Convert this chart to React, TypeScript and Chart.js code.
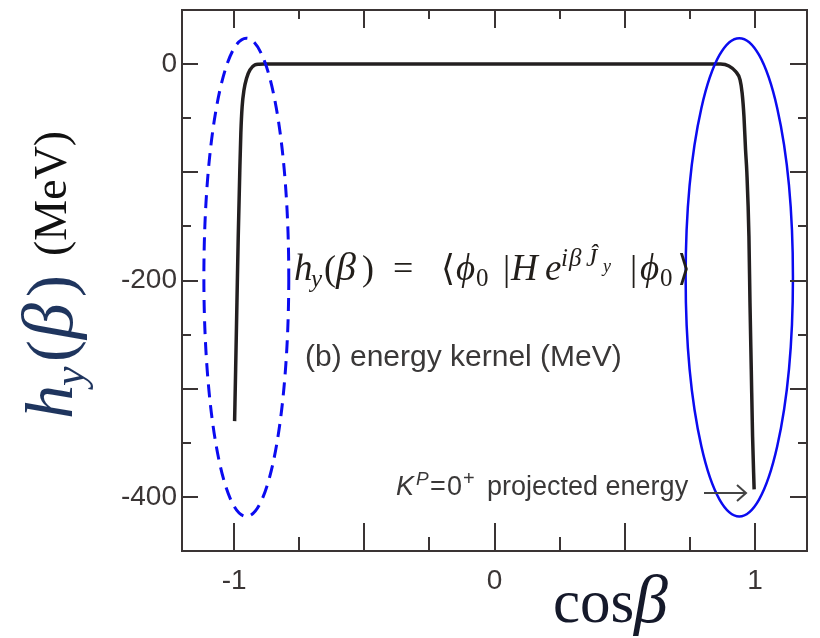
import React, { useEffect, useRef } from 'react';
import { Chart, registerables } from 'chart.js';

Chart.register(...registerables);

// ---- data ----
const cosBeta = [
  -0.998, -0.994, -0.989, -0.984, -0.978, -0.974, -0.969, -0.962, -0.952, -0.939, -0.92, -0.905, -0.886,
  0.868, 0.9, 0.926, 0.943, 0.951, 0.958, 0.964, 0.969, 0.977, 0.981, 0.986, 0.991, 0.997,
];
const kernelMeV = [
  -330, -282, -220, -159, -98, -63.5, -39, -24, -13, -5.4, -0.7, -0.2, 0,
  0, -1.7, -6.9, -14.6, -26.9, -48.5, -79, -100, -159, -220, -282, -344, -393,
];
const xTickLabels = [-1, 0, 1];
const yTickLabels = [-400, -200, 0];
const xMajorTicks = [-1, -0.5, 0, 0.5, 1];
const xMinorTicks = [-0.75, -0.25, 0.25, 0.75];
const yMajorTicks = [-400, -300, -200, -100, 0];
const yMinorTicks = [-350, -250, -150, -50];

// highlighted regions (centre / radii in data units)
const ellipseCx = [-0.953, 0.94];
const ellipseCy = [-197, -197];
const ellipseRx = [0.163, 0.206];
const ellipseRy = [221, 221];
const ellipseDashed = [true, false];

const SERIF = '"Liberation Serif", "DejaVu Serif", serif';
const SANS = '"Liberation Sans", Arial, sans-serif';

type Piece = [number, string, string, number, string?];

function drawPieces(ctx: CanvasRenderingContext2D, pieces: Piece[], baseY: number, color: string) {
  ctx.textAlign = 'left';
  ctx.textBaseline = 'alphabetic';
  for (const [x, t, f, dy, c] of pieces) {
    ctx.font = f;
    ctx.fillStyle = c || color;
    ctx.fillText(t, x, baseY + dy);
  }
}

const framePlugin = {
  id: 'frameAndNotes',
  afterDatasetsDraw(chart: any) {
    const { ctx, chartArea: a } = chart;
    const xs = chart.scales.x;
    const ys = chart.scales.y;
    ctx.save();
    // ellipses
    for (let i = 0; i < ellipseCx.length; i++) {
      const cx = xs.getPixelForValue(ellipseCx[i]);
      const cy = ys.getPixelForValue(ellipseCy[i]);
      const rx = Math.abs(xs.getPixelForValue(ellipseCx[i] + ellipseRx[i]) - cx);
      const ry = Math.abs(ys.getPixelForValue(ellipseCy[i] + ellipseRy[i]) - cy);
      ctx.beginPath();
      ctx.ellipse(cx, cy, rx, ry, 0, 0, Math.PI * 2);
      ctx.setLineDash(ellipseDashed[i] ? [13, 8] : []);
      ctx.lineWidth = ellipseDashed[i] ? 3 : 2.5;
      ctx.strokeStyle = '#0b0bf0';
      ctx.stroke();
    }
    ctx.setLineDash([]);
    // frame
    ctx.strokeStyle = '#3a3434';
    ctx.lineWidth = 2;
    ctx.strokeRect(a.left, a.top, a.right - a.left, a.bottom - a.top);
    ctx.beginPath();
    const tickX = (vals: number[], lb: number, lt: number) => {
      for (const v of vals) {
        const p = Math.round(xs.getPixelForValue(v));
        ctx.moveTo(p, a.bottom);
        ctx.lineTo(p, a.bottom - lb);
        ctx.moveTo(p, a.top);
        ctx.lineTo(p, a.top + lt);
      }
    };
    const tickY = (vals: number[], ll: number, lr: number) => {
      for (const v of vals) {
        const p = Math.round(ys.getPixelForValue(v));
        ctx.moveTo(a.left, p);
        ctx.lineTo(a.left + ll, p);
        ctx.moveTo(a.right, p);
        ctx.lineTo(a.right - lr, p);
      }
    };
    tickX(xMajorTicks, 28, 18);
    tickX(xMinorTicks, 14, 9);
    tickY(yMajorTicks, 16, 17);
    tickY(yMinorTicks, 9, 9);
    ctx.stroke();
    ctx.restore();
  },
  afterDraw(chart: any) {
    const ctx: CanvasRenderingContext2D = chart.ctx;
    ctx.save();
    // formula
    const M = `italic 37px ${SERIF}`;
    const B = `italic 40px ${SERIF}`;
    const U = `36px ${SERIF}`;
    const S = `italic 25px ${SERIF}`;
    const SU = `25px ${SERIF}`;
    const P = `italic 25px ${SERIF}`;
    const PS = `italic 18px ${SERIF}`;
    drawPieces(ctx, [
      [294, 'h', M, 0], [311, 'y', S, 7], [324, '(', U, 0], [336, '\u03B2', B, 0], [362, ')', U, 0],
      [393, '=', U, 0], [441, '\u27E8', U, 0], [456, '\u03D5', M, 0], [476, '0', SU, 6],
      [503, '|', U, 0], [511, 'H', M, 0], [545, 'e', M, 0],
      [561, 'i', P, -14], [569, '\u03B2', P, -14], [586, '\u0134', P, -14], [603, 'y', PS, -8],
      [630, '|', U, 0], [640, '\u03D5', M, 0], [660, '0', SU, 6], [677, '\u27E9', U, 0],
    ], 280, '#221e1a');

    // (b) energy kernel (MeV)
    ctx.font = `30px ${SANS}`;
    ctx.fillStyle = '#3a3838';
    ctx.fillText('(b) energy kernel (MeV)', 305, 366);

    // K^P = 0^+ projected energy ->
    const T = `27px ${SANS}`;
    const TI = `italic 27px ${SANS}`;
    const TS = `20px ${SANS}`;
    const TSI = `italic 19px ${SANS}`;
    drawPieces(ctx, [
      [396, 'K', TI, 0], [416, 'P', TSI, -10], [430, '=', T, 0], [447, '0', T, 0], [463, '+', TS, -10],
      [487, 'projected energy', T, 0],
    ], 495, '#3a3838');
    ctx.strokeStyle = '#444';
    ctx.lineWidth = 2;
    ctx.beginPath();
    ctx.moveTo(704, 493);
    ctx.lineTo(745, 493);
    ctx.moveTo(737, 485);
    ctx.lineTo(746, 493);
    ctx.lineTo(737, 501);
    ctx.stroke();

    // x title
    drawPieces(ctx, [
      [553, 'cos', `61px ${SERIF}`, 0], [634, '\u03B2', `italic 68px ${SERIF}`, 0],
    ], 622, '#15192a');

    // y title (rotated)
    ctx.translate(72, 419);
    ctx.rotate(-Math.PI / 2);
    drawPieces(ctx, [
      [0, 'h', `italic 68px ${SERIF}`, 0], [33, 'y', `italic 44px ${SERIF}`, 12],
      [57, '(', `66px ${SERIF}`, 0], [80, '\u03B2', `italic 72px ${SERIF}`, 0], [122, ')', `66px ${SERIF}`, 0],
      [163, '(MeV)', `46px ${SERIF}`, -6, '#111111'],
    ], 0, '#1f355e');
    ctx.restore();
  },
};

export default function App() {
  const ref = useRef<HTMLCanvasElement>(null);
  useEffect(() => {
    const chart = new Chart(ref.current as HTMLCanvasElement, {
      type: 'line',
      data: {
        datasets: [
          {
            data: cosBeta.map((x, i) => ({ x, y: kernelMeV[i] })),
            borderColor: '#231f20',
            borderWidth: 3.5,
            pointRadius: 0,
            cubicInterpolationMode: 'monotone',
            fill: false,
          },
        ],
      },
      options: {
        animation: false,
        responsive: false,
        devicePixelRatio: 1,
        layout: { padding: { left: 0, top: 10, right: 13, bottom: 0 } },
        plugins: { legend: { display: false }, tooltip: { enabled: false } },
        scales: {
          x: {
            type: 'linear',
            min: -1.2,
            max: 1.2,
            grid: { display: false, drawTicks: false },
            border: { display: false },
            afterBuildTicks: (s: any) => {
              s.ticks = xTickLabels.map((v) => ({ value: v }));
            },
            afterFit: (s: any) => {
              s.height = 87;
              s.paddingLeft = 0;
              s.paddingRight = 0;
            },
            ticks: {
              padding: 13,
              maxRotation: 0,
              autoSkip: false,
              color: '#3a3535',
              font: { family: SANS, size: 28 },
              callback: (v: any) => String(v),
            },
          },
          y: {
            type: 'linear',
            min: -450,
            max: 50,
            grid: { display: false, drawTicks: false },
            border: { display: false },
            afterBuildTicks: (s: any) => {
              s.ticks = yTickLabels.map((v) => ({ value: v }));
            },
            afterFit: (s: any) => {
              s.width = 182;
              s.paddingTop = 0;
              s.paddingBottom = 0;
            },
            ticks: {
              padding: 5,
              autoSkip: false,
              color: '#3a3535',
              font: { family: SANS, size: 28 },
              callback: (v: any) => String(v),
            },
          },
        },
      },
      plugins: [framePlugin],
    } as any);
    return () => chart.destroy();
  }, []);
  return (
    <div style={{ position: 'fixed', left: 0, top: 0, width: 820, height: 638, background: '#ffffff' }}>
      <canvas ref={ref} width={820} height={638} style={{ display: 'block', width: 820, height: 638 }} />
    </div>
  );
}
